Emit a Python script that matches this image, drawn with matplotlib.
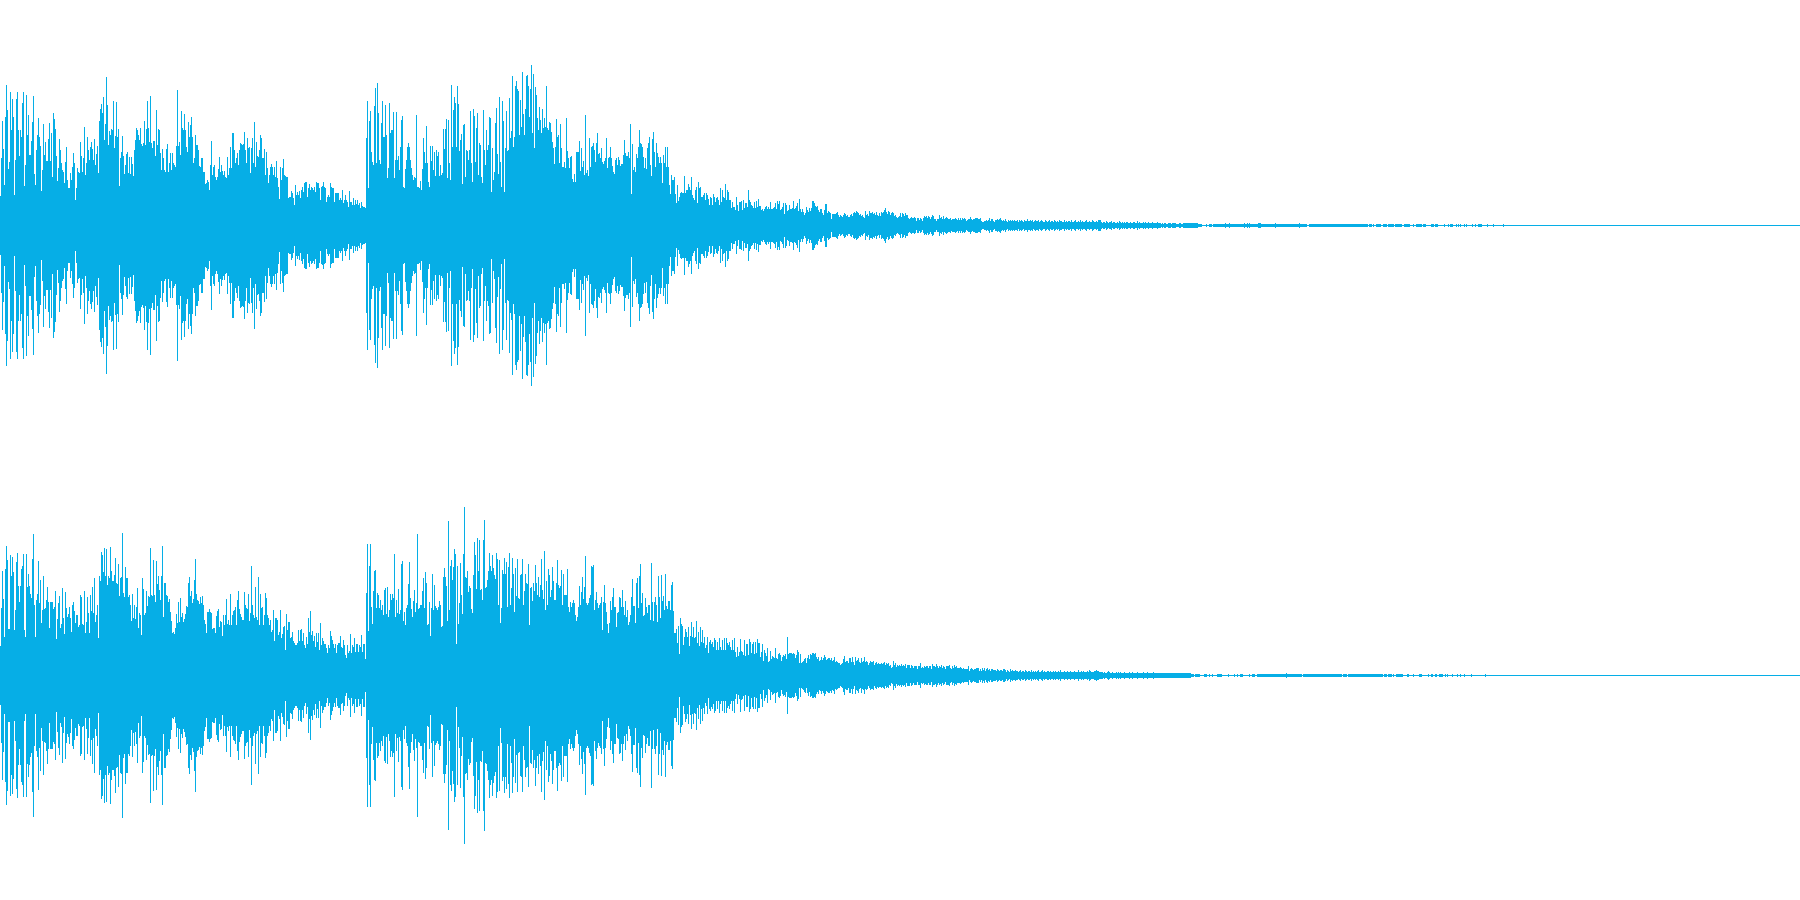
#!/usr/bin/env python3

"""
Stereo waveform: peak level per pixel column for both channels.
Levels are on a scale where 225 is full scale.
"""

import matplotlib
matplotlib.use('Agg')
import matplotlib.pyplot as plt
import numpy as np

# upper channel, peak level per column
upper_attack = [29,67,104,76,40,108,140,115,56,63,133,95,126,108,30,65,126,133,95,69,95,88,122,133,39,60,130,90,110,70,70,84,103,129,51,40,75,90,107,88,79,34,55,101,70,83,64,64,86,102,64,92,48,112,106,96,69,44,57,86,75,62,55,53,42,63,78,45,37,37,52,45,58,72,62,25,37,57,53,52,83,69,53,67,98,50,62,88,75,65,78,83,76,65,86,60,71,79,52,104,116,121,112,128,85,101,148,120,80,94,90,96,95,124,77,89,123,88,96,39,67,73,89,69,51,60,71,73,52,68,51,68,61,49,75,85,97,95,90,85,97,81,79,82,104,80,96,124,97,83,129,82,77,84,84,69,115,80,96,95,72,55,76,67,55,53,76,81,53,62,72,55,72,62,60,58,79,135,79,83,70,114,97,95,111,95,78,73,103,88,100,108,88,62,67,90,80,80,75,59,58,67,67,53,53,41,42,45,43,35,60,84,50,58,60,48,45,48,56,68,53,60,54,50,54,48,47,68,50,57,78,57,92,92,75,62,67,72,60,75,82,81,80,81,93,75,62,87,77,78,52,77,87,62,103,58,83,69,68,75,90,87,67,67,76,50,73,57,42,50,58,61,58,50,58,48,64,47,38,26,58,45,57,66,50,49,48,48,27,28,28,34,32,27,20,40,30,33,30,34,27,35,38,33,42,43,43,28,37,41,35,38,37,35,38,33,43,42,42,37,25,38,39,43,38,37,23,28,30,28,42,38,37,37,23,32,32,32,32,25,27,25,35,22,25,30,25,23,18,34,23,23,20,27,20,25,21,25,20,22,17,23,19,18,18,17,87,124,37,104,114,73,63,60,119,137,62,142,112,65,61,102,124,88,88,120,90,47,57,122,92,95,95,113,47,65,113,65,69,55]
upper_second = [78,105,109,38,37,56,65,78,82,78,65,57,50,45,48,47,110,38,38,37,44,35,56,87,73,62,99,62,43,38,79,64,79,55,73,49,75,69,73,49,60,50,52,96,76,96,106,47,105,62,45,140,78,115,128,122,78,139,121,74,85,91,41,100,101,48,75,74,65,75,114,62,43,116,109,63,97,112,50,82,80,48,42,115,75,60,95,75,80,108,107,33,77,45,53,102,117,71,51,128,63,38,124,104,33,77,114,74,75,127,87,94,149,78,88,139,144,136,134,90,125,98,153,111,90,116,149,150,139,108,136,160,92,151,77,138,130,107,95,118,105,92,116,97,107,98,139,97,95,103,102,93,83,77,61,78,106,88,90,62,101,77,58,58,63,57,107,74,67,57,68,69,46,43,51,43,73,73,73,84,54,77,58,64,50,110,52,55,49,87,58,78,79,82,75,63,82,92,71,72,67,77,63,61,64,67,87,57,67,68,78,67,59,53,51,65,67,60,68,65,59,61,61,70,85,72,69,69,73,67,101,31,81,55,58,53,71,67,78,95,82,81,78,68,57,67,56,77,82,88,60,49,86,93,73,58,82,72,68,62,68,62,42,70,62,78,58,78,58,40,31,50,45,45,48,31,22,40,24,28,32,33,32,32,49,32,35,35,41,38,35,48,30,27,25,35,38,22,43,37,38,28,28,30,32,25,32,30,26,20,28,27,20,31,28,23,27,28,25,20,37,23,35,28,27,41,25,35,33,25,25,17,23,18,18,15,28,20,14,23,23,24,15,25,17,22,22,18,35,25,23,20,19,17,23,17,24,18,26,19]
upper_decay = [19,15,16,14,16,18,19,16,18,16,23,16,16,17,18,22,16,24,21,24,15,16,18,22,11,22,20,14,15,20,16,16,17,24,16,17,19,22,14,26,16,13,16,13,10,12,18,15,13,17,14,17,24,24,22,19,18,19,15,13,16,16,12,10,15,21,21,12,14,13,12,6,11,11,11,11,12,13,10,8,10,9,8,10,12,11,9,10,8,8,10,11,9,12,13,12,14,13,12,10,11,9,10,8,7,14,10,11,9,14,12,12,13,11,12,10,13,10,9,12,9,13,12,13,15,17,13,11,14,13,10,12,13,12,9,10,8,7,8,9,12,8,12,11,9,12,10,10,7,6,7,8,7,7,8,7,4,7,7,5,7,6,4,7,9,8,9,7,9,8,6,8,10,9,6,6,4,6,6,10,7,8,6,9,6,7,8,7,6,6,7,5,6,6,6,7,6,5,7,5,7,5,7,6,7,6,4,5,6,6,8,6,5,6,6,7,7,7,6,6,7,4,3,3,4,4,5,4,5,7,4,6,6,4,3,5,5,6,5,6,7,5,4,5,4,6,4,3,5,4,5]
upper_fade = [4,5,4,5,4,4,5,3,5,4,5,4,3,5,4,4,6,4,4,5,4,5,3,4,5,4,4,5,3,4,5,4,3,3,5,4,3,4,5,3,4,4,3,5,4,3,4,3,5,4,4,3,3,5,3,4,3,4,4,3,5,3,3,4,5,3,3,4,3,5,3,4,3,3,4,5,3,3,4,3,3,5,4,3,3,4,3,5,5,5,3,2,3,3,2,4,3,2,3,3,4,2,3,3,2,2,3,2,4,3,2,3,2,3,2,3,3,2,2,3,2,2,3,3,2,2,4,2,3,2,2,2,3,2,3,2,2,3,2,2,2,3,2,2,2,2,3,2,2,2,1,2,1,2,2,1,1,2,2,2,1,2,2,2,2,1,1,1,2,2,1,1,2,2,2,2,2,2,2,2,2,2,2,2,2,2,2,1,1,1]

# lower channel, peak level per column
lower_attack = [29,67,104,76,38,106,129,115,46,46,120,99,118,103,45,65,113,122,89,73,89,106,109,121,45,38,121,88,101,89,81,77,116,141,70,38,75,81,114,72,95,52,65,99,66,67,75,88,73,47,73,73,73,66,68,84,36,56,72,79,47,51,87,57,41,83,67,58,61,68,57,43,70,73,64,52,60,60,48,50,80,78,51,50,84,42,53,78,62,42,80,64,88,62,97,53,60,70,37,99,94,123,120,103,127,99,126,90,99,97,128,104,94,94,100,117,92,91,111,79,97,98,142,82,78,108,97,97,78,80,70,54,81,57,70,56,68,87,47,62,60,40,97,86,60,62,84,69,79,78,127,80,79,115,80,73,114,91,99,85,75,99,129,58,92,92,80,79,73,76,63,54,42,43,41,47,61,52,73,53,77,58,62,53,56,61,69,68,92,98,79,84,72,76,95,116,81,75,74,71,78,72,79,70,55,51,42,63,63,66,63,62,46,47,47,42,59,64,66,48,54,53,39,60,50,60,76,51,55,50,81,50,60,64,65,68,50,75,84,66,61,58,55,55,83,70,67,66,81,54,62,109,70,60,57,88,58,55,98,50,81,67,68,50,60,82,77,60,57,50,55,43,45,65,34,57,57,55,40,43,65,37,41,48,49,25,61,45,53,53,37,38,43,34,32,30,30,32,45,34,45,46,34,42,30,27,38,31,57,43,64,40,44,34,39,28,42,33,42,25,52,30,37,34,31,31,27,22,30,27,44,39,35,31,27,31,22,30,32,32,39,28,27,35,30,20,17,30,22,24,41,22,30,28,37,23,31,31,23,30,28,40,23,31,31,16,82,131,44,109,131,68,51,84,104,105,67,82,80,67,75,65,70,60,85,87,61,88,58,65,81,75,81,77,121,58,75,62,86,61]
lower_second = [65,111,114,54,63,50,67,70,91,113,77,66,58,74,85,63,72,141,66,67,70,70,84,97,67,103,92,50,51,73,39,67,101,65,90,69,67,65,68,74,70,48,49,98,107,98,89,54,154,65,109,115,95,108,126,121,31,109,51,72,112,80,61,121,168,98,97,104,83,89,87,66,62,100,133,120,86,137,104,135,85,86,75,135,155,87,88,95,104,122,109,104,120,107,100,96,122,116,70,115,52,67,105,101,117,101,113,68,108,122,70,87,117,101,63,107,79,116,77,76,100,101,116,70,84,101,92,91,111,50,87,88,74,92,84,110,92,80,98,78,90,116,85,76,124,65,94,70,106,100,78,85,108,94,75,75,92,115,90,87,89,105,70,101,80,80,80,106,68,63,73,68,72,75,72,60,54,58,68,89,70,83,98,76,88,119,72,70,72,77,80,109,108,110,65,75,83,72,67,70,72,78,45,73,90,72,63,51,42,52,74,65,78,87,68,68,48,62,63,78,77,68,85,68,60,74,58,65,50,53,60,78,96,69,69,52,92,97,67,99,111,72,82,59,60,77,68,62,70,70,55,112,73,54,73,78,70,53,99,78,57,100,74,79,65,101,69,66,74,74,65,90,93,64,42,42,46,32,49,21,57,51,49,30,38,46,43,38,48,29,39,53,38,48,37,38,54,32,43,29,48,33,45,32,38,27,30,38,22,33,35,31,33,28,37,35,25,33,25,37,28,25,35,25,37,25,37,32,30,33,28,25,35,25,37,23,18,28,19,23,36,24,23,20,35,19,31,31,20,36,33,22,31,33,21,33,22,36,32,32,18]
lower_decay = [23,31,14,25,22,19,27,13,14,24,16,19,18,17,27,17,16,21,22,20,14,18,20,19,21,16,38,21,22,22,22,21,22,21,17,20,25,23,12,21,12,13,14,16,17,12,17,20,16,21,20,22,22,21,22,18,16,18,14,15,18,15,17,20,18,15,16,17,17,15,17,14,15,18,13,14,13,12,12,10,11,12,16,19,13,14,14,12,17,17,13,18,13,10,18,14,15,17,13,12,17,13,14,18,13,14,13,10,12,14,13,13,14,10,12,13,11,12,11,11,12,11,12,13,10,12,11,12,9,10,7,8,14,10,12,8,10,9,10,9,11,9,10,9,11,7,10,10,10,7,10,9,7,9,9,9,6,9,9,12,7,8,7,9,8,9,9,7,9,9,6,11,9,9,8,11,9,7,9,8,10,7,9,8,6,9,9,9,10,7,6,9,7,10,8,9,7,7,7,8,7,6,7,6,6,6,6,9,4,6,7,6,5,6,6,7,7,7,4,6,4,7,5,7,4,6,7,5,6,4,6,6,5,5,5,4,6,5,4,5,5,4,6,6,5,3,5,4,3,6]
lower_fade = [4,5,4,4,5,4,4,3,4,5,3,4,4,3,5,4,3,4,4,3,5,3,4,3,4,3,4,5,3,3,4,5,3,4,3,3,4,4,3,4,3,3,4,3,4,3,3,4,3,5,3,3,3,4,3,3,4,3,3,4,3,3,3,4,3,3,3,5,3,3,4,3,4,3,3,3,4,3,5,4,3,3,3,4,4,5,4,4,3,3,3,3,2,3,2,2,3,4,3,2,2,3,2,2,2,3,2,3,2,3,2,2,2,3,2,2,2,2,3,2,2,3,2,2,2,2,3,2,2,2,2,2,3,2,2,2,3,2,2,2,2,2,3,2,2,2,2,2,2,2,2,2,2,2,2,2,2,2,2,2,2,2,2,2,2,2,2,2,2,2,2,2,2,2,2,2,2,2,2,2,1,1,1]

# very quiet end of the sound: first and last column at level 1, then level 2 columns
upper_quiet = [[1200,1201],[1206,1206],[1209,1211],[1213,1215],[1216,1216],[1217,1306],[1309,1320],[1321,1367],[1369,1371],[1373,1373],[1376,1380],[1383,1386],[1388,1393],[1395,1399],[1400,1401],[1404,1409],[1413,1413],[1416,1418],[1419,1421],[1423,1425],[1431,1433],[1435,1437],[1444,1444],[1448,1448],[1450,1452],[1456,1456],[1458,1458],[1460,1460],[1464,1464],[1466,1466],[1472,1472],[1475,1475],[1478,1481],[1487,1487],[1493,1493],[1503,1503]]
upper_ticks = [1225,1229,1244,1247,1249,1258,1259,1260,1275,1299]
lower_quiet = [[1184,1186],[1190,1192],[1195,1199],[1204,1206],[1209,1209],[1212,1212],[1217,1221],[1228,1228],[1234,1234],[1237,1237],[1240,1242],[1249,1249],[1252,1254],[1257,1301],[1303,1330],[1331,1341],[1343,1346],[1348,1361],[1362,1371],[1372,1382],[1384,1386],[1388,1391],[1393,1393],[1396,1402],[1407,1408],[1413,1413],[1419,1421],[1428,1428],[1431,1432],[1435,1436],[1439,1442],[1445,1445],[1447,1447],[1452,1452],[1457,1457],[1460,1460],[1464,1464],[1471,1471],[1485,1485]]
lower_ticks = [1286]

NUM_COLUMNS = 1800
FULL_SCALE = 225
WAVE_COLOR = '#06AEE6'


def buildLevels(segments, quiet, ticks):
    """Joins the read segments into one level per column."""
    levels = np.zeros(NUM_COLUMNS)
    joined = np.concatenate(segments)
    levels[:len(joined)] = joined
    for start, end in quiet:
        levels[start:end+1] = np.maximum(levels[start:end+1], 1)
    levels[ticks] = 2
    return levels


def drawChannel(ax, levels):
    # half a unit extra so that a level of 0 still fills one pixel row
    columns = np.arange(NUM_COLUMNS) + 0.5
    ax.vlines(columns, -levels-0.5, levels+0.5, colors=WAVE_COLOR, linewidth=0.72, antialiased=False, snap=False)
    ax.set_xlim(0, NUM_COLUMNS)
    ax.set_ylim(-FULL_SCALE+0.5, FULL_SCALE+0.5)
    ax.axis('off')


def main():
    upper = buildLevels([upper_attack, upper_second, upper_decay, upper_fade], upper_quiet, upper_ticks)
    lower = buildLevels([lower_attack, lower_second, lower_decay, lower_fade], lower_quiet, lower_ticks)

    fig = plt.figure(figsize=(18, 9), dpi=100)
    drawChannel(fig.add_axes([0, 0.5, 1, 0.5]), upper)
    drawChannel(fig.add_axes([0, 0, 1, 0.5]), lower)
    fig.savefig('out.png', dpi=100)


if __name__=='__main__':
    main()
